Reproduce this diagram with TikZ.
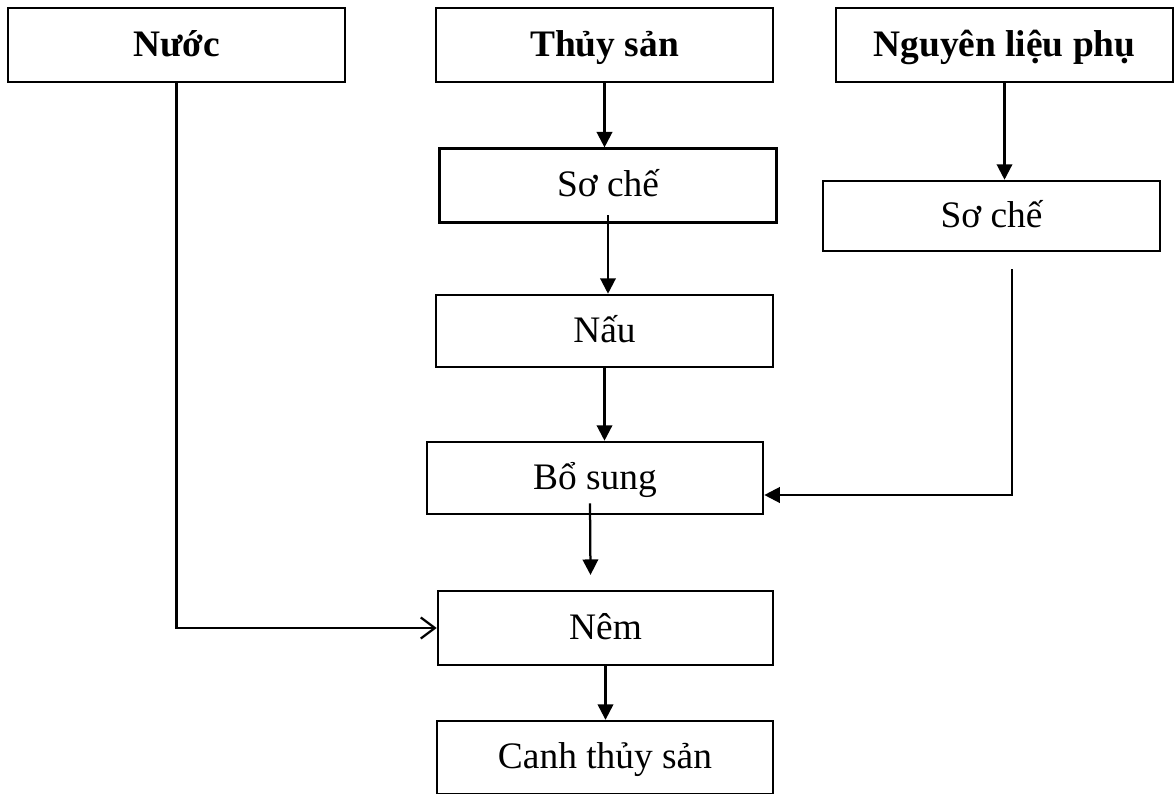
\documentclass[tikz,border=0pt]{standalone}
\usepackage{fontspec}
\setmainfont{Liberation Serif}
\usetikzlibrary{arrows.meta}

\begin{document}
\begin{tikzpicture}[x=0.025cm,y=-0.025cm,
  box/.style={draw,line width=1.8pt,inner sep=0pt,text height=20pt,text depth=4pt,minimum width=8.425cm,minimum height=1.84cm,font=\fontsize{26.6}{32}\selectfont},
  flow/.style={line width=1.6pt,-{Triangle[length=11pt,width=11pt]}},
  open/.style={line width=1.6pt,-{Straight Barb[length=10pt,width=15pt,line width=1.6pt]}}]
\useasboundingbox (0,0) rectangle (1176,794);
\node[box] (n0) at (176.5,45) {\textbf{Nước}};
\node[box] (n1) at (604.5,45) {\textbf{Thủy sản}};
\node[box] (n2) at (1004.5,45) {\textbf{Nguyên liệu phụ}};
\node[box] (n3) at (608,185.5) {Sơ chế};
\node[box,minimum height=1.75cm] (n4) at (991.5,216) {Sơ chế};
\node[box,minimum height=1.8cm] (n5) at (604.5,331) {Nấu};
\node[box,minimum width=8.4cm,minimum height=1.8cm] (n6) at (595,478) {Bổ sung};
\node[box,minimum width=8.375cm] (n7) at (605.5,628) {Nêm};
\node[box,minimum width=8.4cm,minimum height=1.82cm] (n8) at (605,757.5) {Canh thủy sản};
\draw[flow] (n1.south) -- (n1.south |- n3.north);
\draw[flow] ([yshift=6pt]n3.south) -- (n3.south |- n5.north);
\draw[flow] (n5.south) -- (n5.south |- n6.north);
\draw[flow] ([shift={(-5,-12)}]n6.south) -- ([shift={(-15,-15)}]n7.north);
\draw[flow] (n7.south) -- (n7.south |- n8.north);
\draw[flow] (n2.south) -- (n2.south |- n4.north);
\draw[flow] ([shift={(20.5,17)}]n4.south) |- ([shift={(0,17)}]n6.east);
\draw[open] (n0.south) |- (n7.west);
\end{tikzpicture}
\end{document}
